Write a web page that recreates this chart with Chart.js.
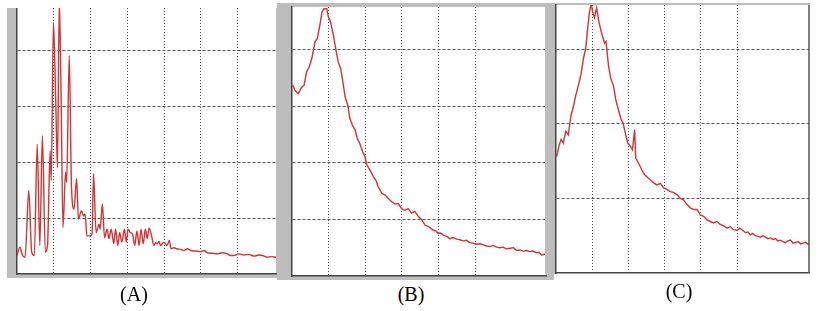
<!DOCTYPE html>
<html>
<head>
<meta charset="utf-8">
<script src="https://cdn.jsdelivr.net/npm/chart.js@4"></script>
<style>
  body { margin: 0; background: #fff; width: 819px; height: 311px; position: relative; overflow: hidden; }
  canvas { position: absolute; }
  .lbl { position: absolute; font-family: "Liberation Serif", serif; font-size: 20px; color: #000; transform: translateX(-50%); }
</style>
</head>
<body>
<canvas id="chartB" width="277" height="277" style="left:277px;top:3px"></canvas>
<canvas id="chartA" width="273" height="270" style="left:7px;top:8px"></canvas>
<canvas id="chartC" width="265" height="271" style="left:545px;top:3px"></canvas>
<div class="lbl" style="left:134px;top:283px">(A)</div>
<div class="lbl" style="left:411px;top:283px">(B)</div>
<div class="lbl" style="left:679px;top:280px">(C)</div>
<script>
// curve A (x and y in grid divisions)
var xA = [0, 0.08, 0.15, 0.22, 0.32, 0.40, 0.47, 0.55, 0.62, 0.69, 0.77, 0.83, 0.90, 0.93, 0.99, 1.05, 1.10, 1.15, 1.20, 1.25,
  1.32, 1.35, 1.42, 1.48, 1.55, 1.62, 1.67, 1.75, 1.81, 1.85, 1.90, 1.99, 2.04, 2.08, 2.15, 2.23, 2.26, 2.32, 2.38, 2.45,
  2.50, 2.56, 2.63, 2.68, 2.74, 2.79, 2.85, 2.92, 2.97, 3.02, 3.08, 3.14, 3.20, 3.26, 3.32, 3.37, 3.43, 3.49, 3.54, 3.59,
  3.65, 3.72, 3.77, 3.81, 3.86, 3.90, 3.99, 4.08, 4.14, 4.19, 4.27, 4.35, 4.45, 4.54, 4.63, 4.72, 4.85, 4.99, 5.08, 5.17,
  5.30, 5.45, 5.58, 5.72, 5.80, 5.90, 6.03, 6.17, 6.30, 6.45, 6.58, 6.72, 6.81, 6.92, 7.04];
var yA = [0.33, 0.48, 0.33, 0.30, 1.49, 0.39, 0.33, 2.32, 0.51, 2.47, 0.39, 0.51, 2.20, 1.67, 4.49, 3.18, 1.90, 4.90, 3.10, 0.83,
  1.82, 1.64, 3.90, 1.58, 1.16, 1.70, 0.98, 1.13, 1.04, 1.07, 0.68, 0.68, 0.71, 1.79, 0.74, 0.89, 0.80, 1.25, 0.65, 0.80,
  0.63, 0.80, 0.54, 0.80, 0.51, 0.74, 0.57, 0.80, 0.57, 0.80, 0.74, 0.71, 0.51, 0.77, 0.51, 0.80, 0.54, 0.80, 0.63, 0.82,
  0.71, 0.51, 0.56, 0.54, 0.58, 0.51, 0.57, 0.51, 0.60, 0.45, 0.47, 0.45, 0.44, 0.42, 0.45, 0.42, 0.41, 0.40, 0.42, 0.38,
  0.37, 0.36, 0.38, 0.36, 0.33, 0.33, 0.36, 0.34, 0.35, 0.32, 0.34, 0.32, 0.30, 0.31, 0.30];

// curve B
var xB = [0.02, 0.08, 0.17, 0.26, 0.33, 0.40, 0.47, 0.54, 0.63, 0.69, 0.76, 0.82, 0.87, 0.95, 0.99, 1.05, 1.13, 1.20, 1.26, 1.33,
  1.38, 1.45, 1.52, 1.58, 1.65, 1.72, 1.78, 1.85, 1.93, 1.99, 2.04, 2.13, 2.22, 2.29, 2.35, 2.45, 2.54, 2.63, 2.72, 2.81,
  2.90, 2.99, 3.08, 3.17, 3.26, 3.35, 3.45, 3.54, 3.63, 3.72, 3.78, 3.85, 3.92, 3.99, 4.06, 4.13, 4.22, 4.31, 4.40, 4.49,
  4.58, 4.67, 4.76, 4.85, 4.94, 5.04, 5.13, 5.22, 5.31, 5.40, 5.49, 5.58, 5.67, 5.76, 5.85, 5.95, 6.04, 6.13, 6.22, 6.31,
  6.40, 6.49, 6.58, 6.67, 6.74, 6.81, 6.93];
var yB = [3.37, 3.28, 3.22, 3.33, 3.37, 3.61, 3.69, 3.84, 4.14, 4.19, 4.43, 4.66, 4.72, 4.72, 4.58, 4.49, 4.25, 3.99, 3.78, 3.66,
  3.46, 3.16, 3.02, 2.78, 2.66, 2.58, 2.43, 2.34, 2.19, 2.11, 1.96, 1.87, 1.75, 1.69, 1.58, 1.46, 1.43, 1.37, 1.31, 1.27,
  1.28, 1.19, 1.16, 1.19, 1.11, 1.14, 1.05, 0.99, 0.90, 0.87, 0.85, 0.81, 0.80, 0.75, 0.76, 0.72, 0.70, 0.66, 0.68, 0.65,
  0.64, 0.62, 0.63, 0.59, 0.58, 0.56, 0.57, 0.55, 0.53, 0.52, 0.54, 0.51, 0.50, 0.51, 0.48, 0.49, 0.50, 0.45, 0.46, 0.44,
  0.45, 0.43, 0.44, 0.41, 0.42, 0.37, 0.39];

// curve C
var xC = [0.02, 0.08, 0.14, 0.20, 0.27, 0.34, 0.41, 0.48, 0.54, 0.62, 0.69, 0.76, 0.82, 0.88, 0.92, 0.97, 1.01, 1.06, 1.12, 1.19,
  1.26, 1.34, 1.38, 1.45, 1.51, 1.59, 1.65, 1.72, 1.80, 1.85, 1.91, 1.98, 2.05, 2.11, 2.17, 2.20, 2.28, 2.37, 2.44, 2.51,
  2.60, 2.69, 2.78, 2.88, 2.97, 3.06, 3.15, 3.24, 3.34, 3.43, 3.52, 3.61, 3.71, 3.80, 3.89, 3.98, 4.07, 4.17, 4.26, 4.35,
  4.44, 4.53, 4.63, 4.72, 4.81, 4.90, 5.00, 5.07, 5.13, 5.23, 5.30, 5.36, 5.43, 5.50, 5.57, 5.64, 5.71, 5.78, 5.85, 5.92,
  5.99, 6.06, 6.12, 6.19, 6.26, 6.33, 6.40, 6.47, 6.54, 6.61, 6.68, 6.75, 6.82, 6.88, 6.98];
var yC = [1.56, 1.70, 1.79, 1.74, 1.90, 1.85, 2.10, 2.23, 2.37, 2.52, 2.66, 2.88, 3.01, 3.30, 3.48, 3.62, 3.50, 3.42, 3.55, 3.35,
  3.21, 3.08, 3.10, 2.77, 2.61, 2.50, 2.32, 2.19, 2.05, 2.01, 1.88, 1.74, 1.70, 1.65, 1.92, 1.54, 1.47, 1.38, 1.32, 1.29,
  1.25, 1.21, 1.18, 1.20, 1.14, 1.12, 1.09, 1.08, 1.05, 1.00, 0.98, 0.92, 0.87, 0.85, 0.85, 0.78, 0.76, 0.71, 0.69, 0.67,
  0.69, 0.65, 0.63, 0.60, 0.62, 0.58, 0.57, 0.60, 0.58, 0.54, 0.55, 0.51, 0.53, 0.50, 0.49, 0.48, 0.50, 0.48, 0.46, 0.47,
  0.45, 0.46, 0.43, 0.44, 0.42, 0.41, 0.43, 0.44, 0.40, 0.41, 0.42, 0.39, 0.40, 0.41, 0.38];

// gray frame round the white plot area
var framePlugin = {
  id: 'frame',
  beforeDraw: function (chart, args, opts) {
    var c = chart.ctx, a = chart.chartArea;
    c.save();
    c.fillStyle = '#bdbdbd';
    c.fillRect(0, 0, chart.width, chart.height);
    c.fillStyle = '#fff';
    if (opts.openBottom) {
      c.fillRect(a.left, a.top, chart.width - a.left, chart.height - a.top);
    } else {
      c.fillRect(a.left, a.top, a.right - a.left, a.bottom - a.top);
    }
    c.restore();
  },
  afterDraw: function (chart, args, opts) {
    if (!opts.rightLine) return;
    var c = chart.ctx, a = chart.chartArea;
    c.save();
    c.strokeStyle = '#555';
    c.lineWidth = 1.5;
    c.beginPath();
    c.moveTo(a.right, a.top);
    c.lineTo(a.right, a.bottom);
    c.stroke();
    c.restore();
  }
};

function pts(xs, ys) {
  return xs.map(function (x, i) { return { x: x, y: ys[i] }; });
}

function makeChart(id, xs, ys, xMax, yMax, pad, frame, smooth) {
  var gridColor = function (ctx) {
    var v = ctx.tick.value;
    return (v > 0 && Number.isInteger(v)) ? '#555' : 'rgba(0,0,0,0)';
  };
  return new Chart(document.getElementById(id), {
    type: 'line',
    data: {
      datasets: [{
        data: pts(xs, ys),
        borderColor: '#d23434',
        borderWidth: 1.4,
        pointRadius: 0,
        cubicInterpolationMode: smooth ? 'monotone' : 'default',
        tension: 0
      }]
    },
    options: {
      responsive: false,
      animation: false,
      devicePixelRatio: 1,
      layout: { padding: pad },
      plugins: { legend: { display: false }, tooltip: { enabled: false }, frame: frame },
      scales: {
        x: {
          type: 'linear', min: 0, max: xMax,
          ticks: { display: false, stepSize: 1 },
          grid: { color: gridColor, lineWidth: 1, drawTicks: false },
          border: { display: true, color: '#444', width: 1.5, dash: [1, 2] }
        },
        y: {
          min: 0, max: yMax,
          ticks: { display: false, stepSize: 1 },
          grid: { color: gridColor, lineWidth: 1, drawTicks: false },
          border: { display: true, color: '#444', width: 1.5, dash: [3, 2] }
        }
      }
    },
    plugins: [framePlugin]
  });
}

makeChart('chartA', xA, yA, 7.04, 4.75, { left: 10, top: 0, right: 4, bottom: 4 }, {}, true);
makeChart('chartB', xB, yB, 6.93, 4.75, { left: 15, top: 4, right: 8, bottom: 4 }, {}, false);
makeChart('chartC', xC, yC, 6.98, 3.59, { left: 11, top: 2, right: 1, bottom: 1 }, { openBottom: true, rightLine: true }, false);
</script>
</body>
</html>
